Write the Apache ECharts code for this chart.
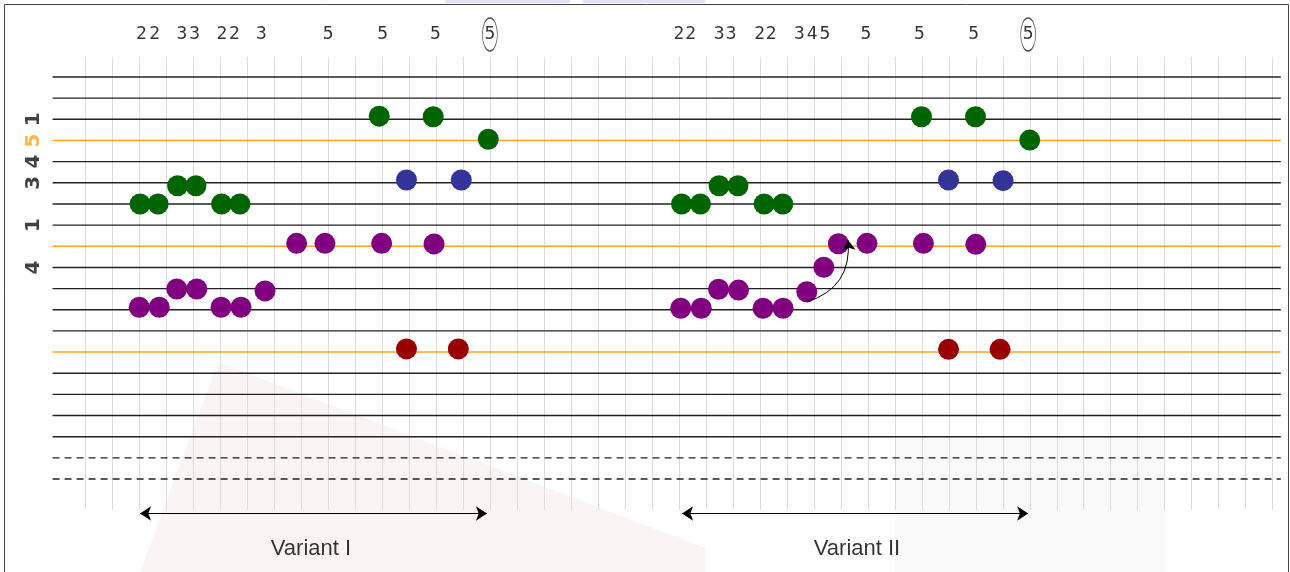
<!DOCTYPE html>
<html>
<head>
<meta charset="utf-8">
<script src="https://cdn.jsdelivr.net/npm/echarts@6/dist/echarts.min.js"></script>
<style>
  html, body { margin: 0; padding: 0; background: #fff; }
  #chart { width: 1290px; height: 572px; }
</style>
</head>
<body>
<div id="chart"></div>
<script>
// staff lines, top to bottom (index = line number)
var staffKinds = ['solid', 'solid', 'solid', 'orange', 'solid', 'solid', 'solid', 'solid', 'orange', 'solid',
  'solid', 'solid', 'solid', 'orange', 'solid', 'solid', 'solid', 'solid', 'dashed', 'dashed'];

// dots: x in grid columns, y in staff lines
var greenX = [2.04, 2.71, 3.43, 4.11, 5.06, 5.74, 10.9, 12.9, 14.94, 22.10, 22.80, 23.49, 24.19, 25.16, 25.85, 30.99, 32.99, 35.0];
var greenY = [6.0, 6.0, 5.14, 5.14, 6.0, 6.0, 1.85, 1.88, 2.94, 6.0, 6.0, 5.14, 5.14, 6.0, 6.0, 1.88, 1.88, 2.98];
var blueX = [11.91, 13.94, 31.99, 34.01];
var blueY = [4.87, 4.87, 4.87, 4.9];
var purpleX = [2.01, 2.75, 3.40, 4.14, 5.04, 5.78, 6.67, 7.84, 8.89, 10.99, 12.93,
  22.07, 22.83, 23.47, 24.21, 25.12, 25.86, 26.74, 27.37, 27.91, 28.97, 31.06, 33.0];
var purpleY = [10.88, 10.88, 10.02, 10.02, 10.88, 10.88, 10.11, 7.86, 7.86, 7.86, 7.89,
  10.93, 10.93, 10.03, 10.07, 10.93, 10.93, 10.15, 8.99, 7.88, 7.86, 7.86, 7.91];
var redX = [11.91, 13.83, 31.99, 33.9];
var redY = [12.85, 12.85, 12.87, 12.87];

// digits over the staff
var digitText = ['2', '2', '3', '3', '2', '2', '3', '5', '5', '5', '5',
  '2', '2', '3', '3', '2', '2', '3', '4', '5', '5', '5', '5', '5'];
var digitX = [2.09, 2.58, 3.59, 4.06, 5.07, 5.54, 6.54, 9.01, 11.03, 12.98, 15.0,
  22.0, 22.44, 23.49, 23.94, 24.99, 25.42, 26.47, 26.94, 27.41, 28.93, 30.91, 32.92, 34.94];
var circledX = [15.0, 34.94];

// rotated labels on the left
var leftText = ['1', '5', '4', '3', '1', '4'];
var leftLine = [2, 3, 4, 5, 7, 9];

// variants
var variantNames = ['Variant I', 'Variant II'];
var variantFrom = [2.04, 22.12];
var variantTo = [14.89, 34.94];
var variantTextX = [8.37, 28.6];

var DIGIT_Y = -2.01, ARROW_Y = 20.63, NAME_Y = 22.29, LEFT_X = -1.9;
var X_MIN = -1.2, X_MAX = 44.3;

function pts(xs, ys) {
  return xs.map(function (x, i) { return [x, ys[i]]; });
}

function dots(name, color, xs, ys) {
  return {
    type: 'scatter', name: name, data: pts(xs, ys),
    symbolSize: 21, clip: false, z: 5,
    itemStyle: { color: color, opacity: 1 }
  };
}

function textSeries(data, label) {
  return {
    type: 'scatter', data: data, symbol: 'circle', symbolSize: 1, clip: false, z: 6, silent: true,
    itemStyle: { color: 'rgba(0,0,0,0)' },
    label: Object.assign({ show: true, position: 'inside', formatter: '{b}' }, label)
  };
}

var series = [];

staffKinds.forEach(function (kind, k) {
  series.push({
    type: 'line', data: [[X_MIN, k], [X_MAX, k]], symbol: 'none', silent: true, z: 2,
    lineStyle: {
      color: kind === 'orange' ? '#ffa41c' : '#222',
      width: 1.4,
      type: kind === 'dashed' ? [7, 5] : 'solid'
    }
  });
});

series.push(dots('green', '#006400', greenX, greenY));
series.push(dots('blue', '#333399', blueX, blueY));
series.push(dots('purple', '#800080', purpleX, purpleY));
series.push(dots('red', '#990000', redX, redY));

series.push(textSeries(digitText.map(function (t, i) {
  return { name: t, value: [digitX[i], DIGIT_Y] };
}), { fontFamily: 'DejaVu Sans Mono', fontSize: 18, color: '#000' }));

series.push({
  type: 'scatter', data: circledX.map(function (x) { return [x, DIGIT_Y]; }),
  symbol: 'circle', symbolSize: [15, 33], clip: false, z: 6, silent: true,
  itemStyle: { color: 'rgba(0,0,0,0)', borderColor: '#222', borderWidth: 1 }
});

series.push(textSeries(leftText.map(function (t, i) {
  return {
    name: t, value: [LEFT_X, leftLine[i]],
    label: { color: t === '5' ? '#ffa41c' : '#111' }
  };
}), { fontFamily: 'DejaVu Sans', fontWeight: 'bold', fontSize: 20, rotate: 90 }));

series.push({
  type: 'lines', coordinateSystem: 'cartesian2d', z: 4, silent: true,
  symbol: ['arrow', 'arrow'], symbolSize: 11,
  lineStyle: { color: '#000', width: 1, opacity: 1 },
  data: variantFrom.map(function (x, i) {
    return { coords: [[x, ARROW_Y], [variantTo[i], ARROW_Y]] };
  })
});

// curved arrow in variant II
series.push({
  type: 'lines', coordinateSystem: 'cartesian2d', z: 7, silent: true,
  symbol: ['none', 'arrow'], symbolSize: 10,
  lineStyle: { color: '#000', width: 1, opacity: 1, curveness: -0.4 },
  data: [{ coords: [[26.74, 10.63], [28.27, 7.72]] }]
});

series.push(textSeries(variantNames.map(function (t, i) {
  return { name: t, value: [variantTextX[i], NAME_Y] };
}), { fontFamily: 'Liberation Sans', fontSize: 22, color: '#000' }));

var chart = echarts.init(document.getElementById('chart'));
chart.setOption({
  animation: false,
  backgroundColor: '#fff',
  graphic: [
    { type: 'polygon', z: -10, silent: true,
      shape: { points: [[218, 362], [705, 548], [705, 572], [140, 572]] },
      style: { fill: 'rgba(170,40,40,0.05)' } },
    { type: 'rect', z: -10, silent: true,
      shape: { x: 895, y: 437, width: 270, height: 140 },
      style: { fill: 'rgba(0,0,0,0.025)' } },
    { type: 'rect', z: -10, silent: true,
      shape: { x: 445, y: 0, width: 125, height: 3 }, style: { fill: '#e2e2f6' } },
    { type: 'rect', z: -10, silent: true,
      shape: { x: 583, y: 0, width: 122, height: 3 }, style: { fill: '#e2e2f6' } },
    { type: 'rect', z: 10, silent: true,
      shape: { x: 4.5, y: 4.5, width: 1284, height: 600 },
      style: { fill: 'transparent', stroke: '#444', lineWidth: 1 } }
  ],
  grid: [
    { left: 52.6, right: 9.2, top: 13.53, bottom: 8.36 },
    { left: 85, right: 17.3, top: 57, bottom: 62 }
  ],
  xAxis: [
    { type: 'value', gridIndex: 0, min: X_MIN, max: X_MAX, show: false },
    { type: 'value', gridIndex: 1, min: 0, max: 44, interval: 1,
      axisLine: { show: false }, axisTick: { show: false }, axisLabel: { show: false },
      splitLine: { show: true, lineStyle: { color: '#dcdcdc', width: 1 } } }
  ],
  yAxis: [
    { type: 'value', gridIndex: 0, min: -3, max: 23, inverse: true, show: false },
    { type: 'value', gridIndex: 1, min: 0, max: 1, show: false }
  ],
  series: series
});
</script>
</body>
</html>
